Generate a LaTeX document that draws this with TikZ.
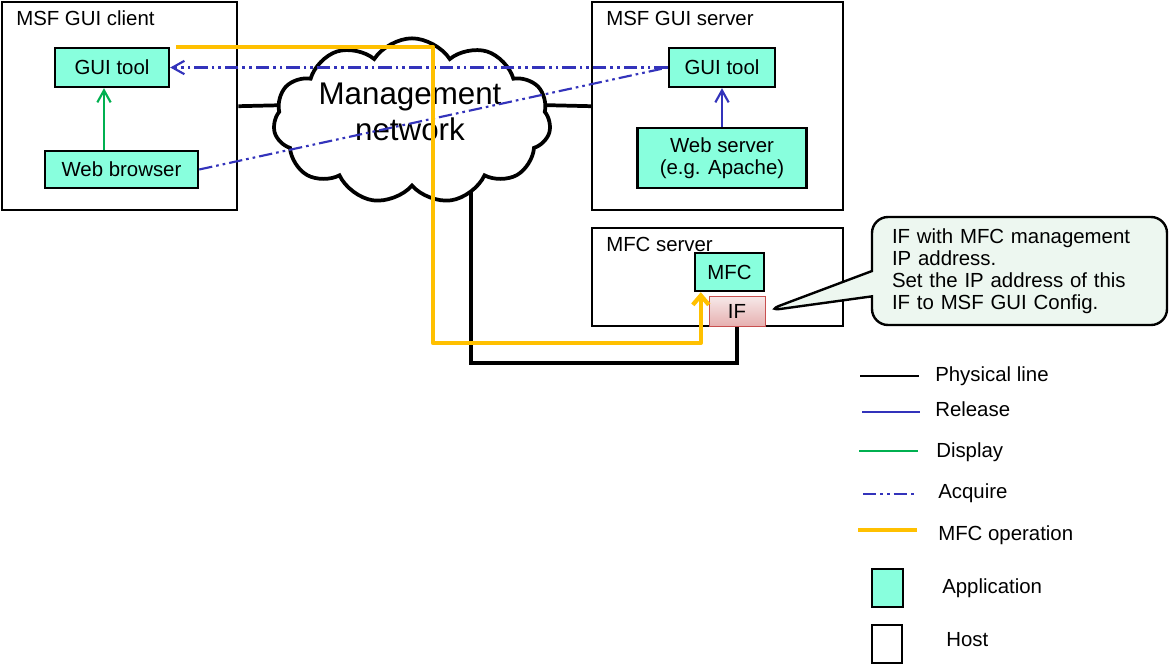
\documentclass[tikz,border=0pt]{standalone}
\usepackage{fontspec}
\setmainfont{Liberation Sans}
\usetikzlibrary{shapes,arrows.meta}

\definecolor{appcol}{RGB}{136,255,221}
\definecolor{relblue}{RGB}{51,51,187}
\definecolor{dispgreen}{RGB}{0,176,80}
\definecolor{opyellow}{RGB}{255,192,0}
\definecolor{notecol}{RGB}{237,247,240}
\definecolor{ifred}{RGB}{200,80,80}

\begin{document}
\begin{tikzpicture}[x=0.75pt,y=-0.75pt,>={Straight Barb[length=9pt,width=10pt]},font=\fontsize{15.3}{16.5}\selectfont]
\tikzstyle{host}=[rectangle,draw,line width=1.8pt,fill=white,anchor=north west,inner sep=0pt]
\tikzstyle{app}=[rectangle,draw,line width=1.8pt,fill=appcol,align=center,inner sep=0pt]
\tikzstyle{lbl}=[anchor=base west,inner sep=0pt]
\tikzstyle{phys}=[line width=2.8pt]
\tikzstyle{release}=[relblue,line width=1.6pt]
\tikzstyle{display}=[dispgreen,line width=1.6pt]
\tikzstyle{acquire}=[relblue,line width=1.6pt,dash pattern=on 10pt off 3pt on 2pt off 3pt on 2pt off 3pt]
\tikzstyle{mfcop}=[opyellow,line width=3.2pt,line join=round,>={Straight Barb[length=7pt,width=12pt]}]
\useasboundingbox (0,0) rectangle (1169,664);

\node[host,minimum width=176.25pt,minimum height=156pt](client) at (1,1) {};
\node[host,minimum width=188.25pt,minimum height=156pt](server) at (591,1) {};
\node[host,minimum width=188.25pt,minimum height=73.5pt](mfcsrv) at (591,227) {};
\node[lbl](clientlbl) at (16,25) {MSF GUI client};
\node[lbl](serverlbl) at (606,25) {MSF GUI server};
\node[lbl](mfcsrvlbl) at (606,251) {MFC server};

\node[app,minimum width=85.5pt,minimum height=29.25pt](clitool) at (112,67.5) {GUI tool};
\node[app,minimum width=114.75pt,minimum height=27.75pt](browser) at (121.5,169.5) {Web browser};
\node[app,minimum width=79.5pt,minimum height=29.25pt](srvtool) at (722,67.5) {GUI tool};
\node[app,minimum width=126.75pt,minimum height=45pt](websrv) at (722,158) {Web server\\(e.g. Apache)};
\node[app,minimum width=51.75pt,minimum height=28.5pt](mfc) at (729.5,272) {MFC};
\node[rectangle,draw=ifred,line width=0.75pt,top color=black!8!ifred!12,bottom color=ifred!45,minimum width=42pt,minimum height=22.5pt,inner sep=0pt](if) at (737,311) {IF};

\coordinate (cl1) at (290,105);
\coordinate (cl2) at (540,105);
\coordinate (cl3) at (471,185);
\draw[phys] (client.east) -- (cl1);
\draw[phys] (cl2) -- (server.west);
\draw[phys] (cl3) -- ++(0,178) -| (if.south);

\node[cloud,draw,line width=2.8pt,fill=white,cloud puffs=11,cloud puff arc=115,aspect=1.67,minimum width=208pt,minimum height=124pt,inner sep=0pt](net) at (412,121) {};
\node[font=\fontsize{23.5}{27}\selectfont,align=center](netlbl) at (410,112) {Management\\network};

\draw[acquire,->] (srvtool.west) -- (clitool.east);
\draw[acquire] (browser.east) -- (srvtool.west);
\draw[display,->] ([xshift=-13.125pt]browser.north) -- ([xshift=-6pt]clitool.south);
\draw[release,->] (websrv.north) -- (srvtool.south);

\coordinate (opturn) at (433,343);
\draw[mfcop,->] ([xshift=4.5pt]clitool.north east) -| (opturn) -| ([xshift=5.25pt]mfc.south west);

\node[rectangle callout,draw,line width=1.8pt,fill=notecol,rounded corners=12pt,callout absolute pointer={(if.east)},callout pointer width=19pt,minimum width=221.25pt,minimum height=81pt,text width=191.25pt,inner xsep=15pt,align=left](note) at (1019.5,271) {IF with MFC management\\IP address.\\Set the IP address of this\\IF to MSF GUI Config.};

\draw[phys,line width=1.6pt] (860,376) -- (919,376);
\draw[release] (862,412) -- (920,412);
\draw[display] (859,451) -- (918,451);
\draw[acquire] (863,494) -- (917,494);
\draw[mfcop] (858,530) -- (917,530);
\node[lbl](lgphys) at (935,381) {Physical line};
\node[lbl](lgrel) at (935,416) {Release};
\node[lbl](lgdisp) at (936,457) {Display};
\node[lbl](lgacq) at (938,498) {Acquire};
\node[lbl](lgop) at (938,540) {MFC operation};
\node[app,minimum width=23.25pt,minimum height=28.5pt](lgapp) at (887.5,588) {};
\node[host,anchor=center,minimum width=22.5pt,minimum height=28.5pt](lghost) at (887,644) {};
\node[lbl](lgapptxt) at (942,593) {Application};
\node[lbl](lghosttxt) at (946,646) {Host};
\end{tikzpicture}
\end{document}
